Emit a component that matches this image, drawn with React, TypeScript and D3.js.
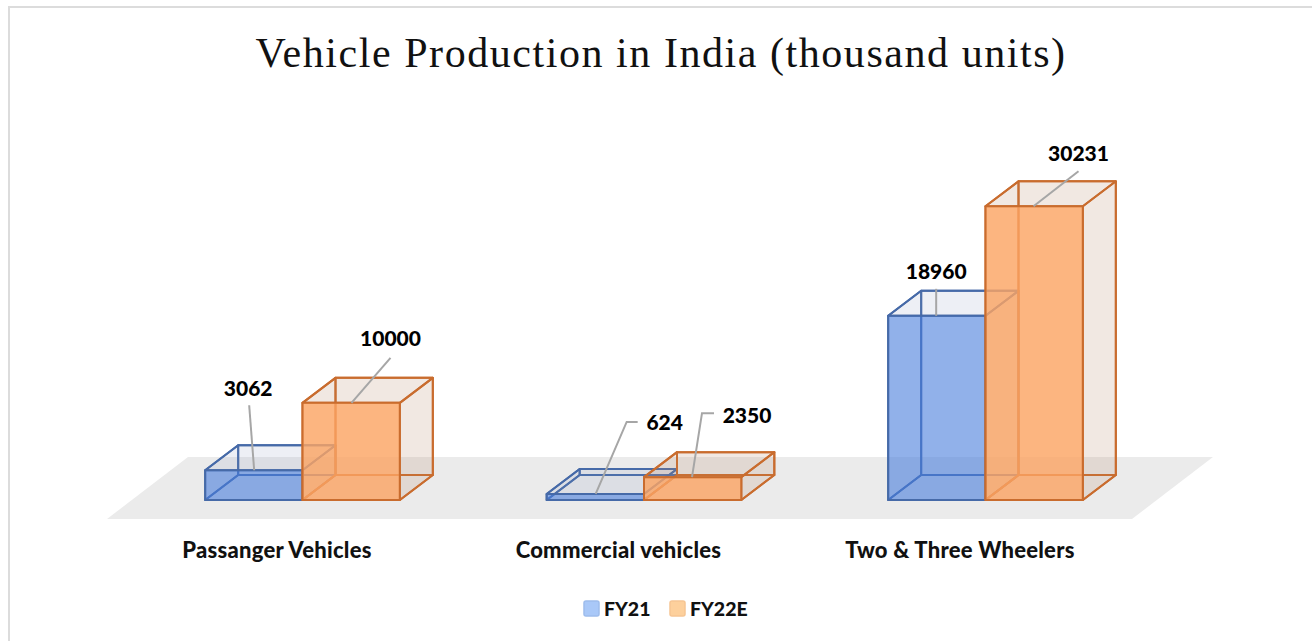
import React from 'react';
import * as d3 from 'd3';

// Hand-built "3D" clustered columns: each bar is a wireframe box drawn from the d3 scales.

const WIDTH = 1312;
const HEIGHT = 641;

const categories = ['Passanger Vehicles', 'Commercial vehicles', 'Two & Three Wheelers'];
const seriesNames = ['FY21', 'FY22E'];
const fy21 = [3062, 624, 18960];
const fy22e = [10000, 2350, 30231];

const BASE_Y = 500;
const DEPTH_X = 33;
const DEPTH_Y = -25;
const LABEL_FONT = "Lato, 'Noto Sans', sans-serif";

const COLORS = [
  { front: 'rgba(72,125,222,0.58)', side: 'rgba(150,165,200,0.09)', stroke: '#466aa8', swatch: '#a9c8f8', swatchStroke: '#9dbcec' },
  { front: 'rgba(252,165,100,0.8)', side: 'rgba(190,140,110,0.1)', stroke: '#c96c2e', swatch: '#fdd09c', swatchStroke: '#f6c592' },
];

// leader offsets from the bar's top-front edge, [series][category]
const LEADERS = [
  [
    { ax: 49, ay: 0, pts: [[44, -65]], lx: 43, ly: -74 },
    { ax: 49, ay: 0, pts: [[80, -72], [91, -72]], lx: 118, ly: -64 },
    { ax: 48, ay: 0, pts: [[48, -27]], lx: 48, ly: -37 },
  ],
  [
    { ax: 49, ay: 0, pts: [[88, -45]], lx: 88, ly: -57 },
    { ax: 48, ay: 0, pts: [[58, -64], [70, -64]], lx: 103, ly: -54 },
    { ax: 48, ay: 0, pts: [[93, -35]], lx: 93, ly: -45 },
  ],
];

const x0 = d3.scaleBand<string>().domain(categories).range([131.75, 1156.25]).paddingInner(0.43).paddingOuter(0.215);
const x1 = d3.scaleBand<string>().domain(seriesNames).range([0, x0.bandwidth()]);
const y = d3.scaleLinear().domain([0, 35000]).range([BASE_Y, 160]);

const poly = d3.line();

function Box({ left, w, top, c }: { left: number; w: number; top: number; c: (typeof COLORS)[number] }) {
  const r = left + w;
  const dx = DEPTH_X;
  const dy = DEPTH_Y;
  return (
    <g strokeLinejoin="round" stroke={c.stroke} strokeWidth={2}>
      {/* back, floor, left */}
      <path d={poly([[left + dx, BASE_Y + dy], [r + dx, BASE_Y + dy], [r + dx, top + dy], [left + dx, top + dy]]) + 'Z'} fill={c.side} />
      <path d={poly([[left, top], [left + dx, top + dy], [left + dx, BASE_Y + dy], [left, BASE_Y]]) + 'Z'} fill={c.side} />
      <path d={poly([[left, BASE_Y], [r, BASE_Y], [r + dx, BASE_Y + dy], [left + dx, BASE_Y + dy]]) + 'Z'} fill={c.side} />
      {/* right, top, front */}
      <path d={poly([[r, top], [r + dx, top + dy], [r + dx, BASE_Y + dy], [r, BASE_Y]]) + 'Z'} fill={c.side} />
      <path d={poly([[left, top], [r, top], [r + dx, top + dy], [left + dx, top + dy]]) + 'Z'} fill={c.side} />
      <path d={poly([[left, top], [r, top], [r, BASE_Y], [left, BASE_Y]]) + 'Z'} fill={c.front} />
    </g>
  );
}

export default function App() {
  const series = [fy21, fy22e];
  const bw = x1.bandwidth();
  return (
    <svg
      width={WIDTH}
      height={HEIGHT}
      viewBox={`0 0 ${WIDTH} ${HEIGHT}`}
      style={{ position: 'absolute', left: 0, top: 0, background: '#fff' }}
    >
      {/* frame: only the top and left edges are in view */}
      <path d={poly([[9, HEIGHT], [9, 7], [WIDTH, 7]])!} fill="none" stroke="#dcdcdc" strokeWidth={2} />
      <text
        x={661}
        y={67}
        textAnchor="middle"
        fontFamily="'Liberation Serif', serif"
        fontSize={42}
        letterSpacing={1.55}
        fill="#111"
      >
        Vehicle Production in India (thousand units)
      </text>

      {/* floor */}
      <path d={poly([[107, 519], [1132, 519], [1213, 457], [188, 457]]) + 'Z'} fill="#ebebeb" />

      {/* bars */}
      {categories.map((cat, i) => (
        <g key={cat}>
          {seriesNames.map((s, j) => (
            <Box key={s} left={x0(cat)! + x1(s)!} w={bw} top={y(series[j][i])} c={COLORS[j]} />
          ))}
        </g>
      ))}

      {/* data labels with leader lines */}
      {seriesNames.map((s, j) =>
        categories.map((cat, i) => {
          const left = x0(cat)! + x1(s)!;
          const top = y(series[j][i]);
          const L = LEADERS[j][i];
          const pts: [number, number][] = [
            [left + L.ax, top + L.ay],
            ...L.pts.map(p => [left + p[0], top + p[1]] as [number, number]),
          ];
          return (
            <g key={s + cat}>
              <path d={poly(pts)!} fill="none" stroke="#a6a6a6" strokeWidth={2} />
              <text
                x={left + L.lx}
                y={top + L.ly}
                textAnchor="middle"
                fontFamily={LABEL_FONT}
                fontWeight={900}
                fontSize={21}
                fill="#000"
              >
                {series[j][i]}
              </text>
            </g>
          );
        })
      )}

      {/* category labels */}
      {categories.map(cat => (
        <text
          key={cat}
          x={x0(cat)! + x0.bandwidth() / 2 - 25.5}
          y={558}
          textAnchor="middle"
          fontFamily={LABEL_FONT}
          fontWeight={900}
          fontSize={22}
          letterSpacing={0.25}
          fill="#111"
        >
          {cat}
        </text>
      ))}

      {/* legend */}
      {seriesNames.map((s, j) => {
        const lx = [584, 670][j];
        return (
          <g key={s}>
            <rect x={lx} y={601} width={15} height={15} rx={2} fill={COLORS[j].swatch} stroke={COLORS[j].swatchStroke} strokeWidth={1.5} />
            <text x={lx + 20} y={616} fontFamily={LABEL_FONT} fontWeight={900} fontSize={19.5} fill="#111">
              {s}
            </text>
          </g>
        );
      })}
    </svg>
  );
}
